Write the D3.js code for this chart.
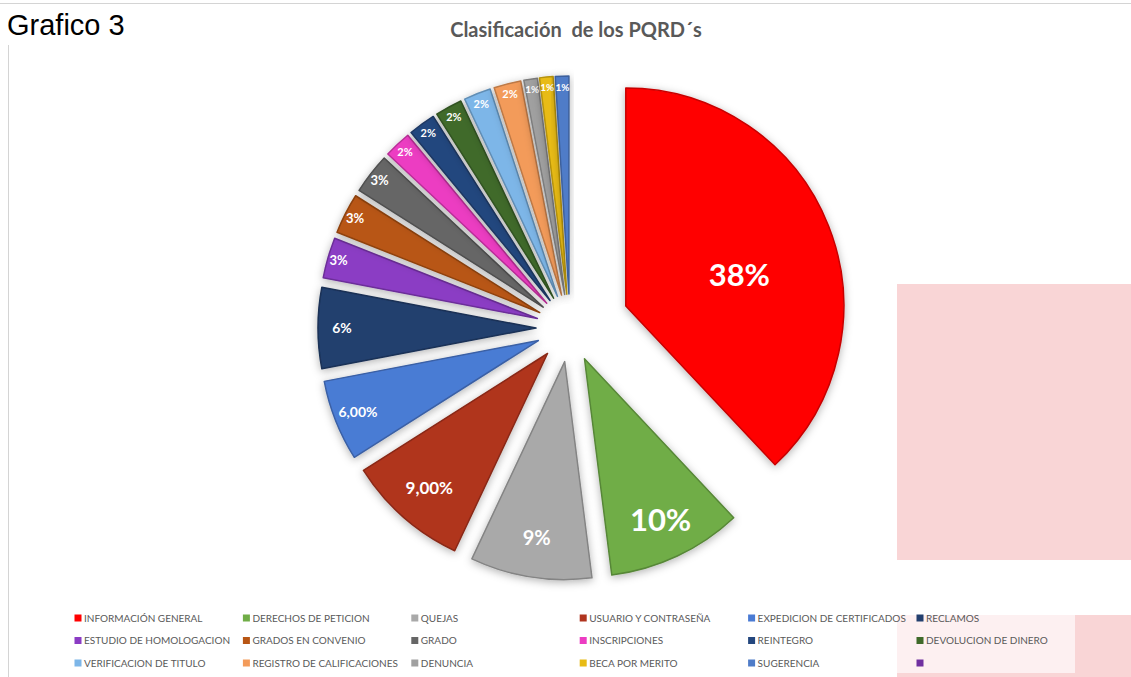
<!DOCTYPE html>
<html lang="es">
<head>
<meta charset="UTF-8">
<title>Clasificación de los PQRD´s</title>
<script src="https://d3js.org/d3.v7.min.js"></script>
<style>
  body { margin: 0; background: #fff; }
  svg { display: block; }
</style>
</head>
<body>
<script>
// categorias y valores (fraccion del total)
var categories = ["INFORMACIÓN GENERAL", "DERECHOS DE PETICION", "QUEJAS", "USUARIO Y CONTRASEÑA",
    "EXPEDICION DE CERTIFICADOS", "RECLAMOS", "ESTUDIO DE HOMOLOGACION", "GRADOS EN CONVENIO",
    "GRADO", "INSCRIPCIONES", "REINTEGRO", "DEVOLUCION DE DINERO", "VERIFICACION DE TITULO",
    "REGISTRO DE CALIFICACIONES", "DENUNCIA", "BECA POR MERITO", "SUGERENCIA", ""];
var values = [0.38, 0.10, 0.09, 0.09, 0.06, 0.06, 0.03, 0.03, 0.03, 0.02, 0.02, 0.02, 0.02, 0.02,
    0.01, 0.01, 0.01, 0];
var labels = ["38%", "10%", "9%", "9,00%", "6,00%", "6%", "3%", "3%", "3%", "2%", "2%", "2%", "2%", "2%",
    "1%", "1%", "1%", ""];
var colors = ["#ff0000", "#70ad47", "#a9a9a9", "#b0341e", "#4a7bd4", "#223f6e", "#8b3cc4", "#b85614",
    "#666666", "#ec3cc2", "#24477e", "#3f6a2a", "#7db6e8", "#f39b5a", "#a0a0a0", "#e8bb14",
    "#4f7cc8", "#7030a0"];

var W = 1131, H = 677;
var svg = d3.select("body").append("svg")
    .attr("width", W)
    .attr("height", H);

var defs = svg.append("defs");
defs.append("filter").attr("id", "sombra")
    .attr("x", "-30%").attr("y", "-30%").attr("width", "160%").attr("height", "160%")
    .append("feDropShadow")
    .attr("dx", 0).attr("dy", 2)
    .attr("stdDeviation", 4.5)
    .attr("flood-color", "#000")
    .attr("flood-opacity", 0.3);

// marco
svg.append("line").attr("x1", 0).attr("x2", W).attr("y1", 3.5).attr("y2", 3.5)
    .attr("stroke", "#d4d4d4");
svg.append("line").attr("x1", 8.5).attr("x2", 8.5).attr("y1", 45).attr("y2", H)
    .attr("stroke", "#d4d4d4");

// recuadros rosados de fondo
svg.append("rect").attr("x", 897).attr("y", 284).attr("width", W - 897).attr("height", 276)
    .attr("fill", "#f9d5d6");
svg.append("rect").attr("x", 897).attr("y", 615).attr("width", W - 897).attr("height", H - 615)
    .attr("fill", "#f9d5d6");

svg.append("text")
    .attr("x", 7).attr("y", 35)
    .attr("font-family", "Liberation Sans, Arial, sans-serif")
    .attr("font-size", "29px")
    .attr("fill", "#000")
    .text("Grafico 3");

svg.append("text")
    .attr("x", 576).attr("y", 37)
    .attr("text-anchor", "middle")
    .attr("font-family", "Lato, 'Open Sans', sans-serif")
    .attr("font-weight", "bold")
    .attr("font-size", "20px")
    .attr("fill", "#595959")
    .attr("xml:space", "preserve")
    .text("Clasificación  de los PQRD´s");

// pastel
var cx = 570, cy = 328, radius = 218;
var pie = d3.pie().sort(null).value(function (d) { return d; });
var arc = d3.arc().innerRadius(0).outerRadius(radius);
var arcs = pie(values);

function explode(d) {
    return d.value >= 0.3 ? 60 : 34;
}
function offset(d, r, shift) {
    var a = (d.startAngle + d.endAngle) / 2 + (shift || 0);
    return [Math.sin(a) * r, -Math.cos(a) * r];
}

var g = svg.append("g").attr("transform", "translate(" + cx + "," + cy + ")");

var slices = g.selectAll(".slice")
    .data(arcs.filter(function (d) { return d.value > 0; }))
    .enter().append("g")
    .attr("class", "slice")
    .attr("transform", function (d) {
        var o = offset(d, explode(d));
        return "translate(" + o[0] + "," + o[1] + ")";
    });

slices.append("path")
    .attr("d", arc)
    .attr("fill", function (d) { return colors[d.index]; })
    .attr("stroke", function (d) { return d3.color(colors[d.index]).darker(0.7); })
    .attr("stroke-width", 1.5)
    .attr("stroke-linejoin", "round")
    .attr("filter", "url(#sombra)");

function fontSize(d) {
    if (d.value >= 0.1) return 31;
    if (d.value >= 0.09) return d.index === 2 ? 20 : 17;
    if (d.value >= 0.06) return 14;
    if (d.value >= 0.03) return 13;
    if (d.value >= 0.02) return 11;
    return 10;
}
function labelRadius(d) {
    if (d.value >= 0.3) return radius * 0.54;
    if (d.value >= 0.09) return radius * 0.82;
    if (d.value >= 0.06) return radius * 0.89;
    return radius * 0.95;
}
function labelPos(d) {
    // la etiqueta grande va algo mas abajo que el angulo medio
    return offset(d, labelRadius(d), d.value >= 0.3 ? 0.11 : 0);
}

slices.append("text")
    .attr("x", function (d) { return labelPos(d)[0]; })
    .attr("y", function (d) { return labelPos(d)[1]; })
    .attr("dy", "0.35em")
    .attr("text-anchor", "middle")
    .attr("font-family", "Lato, 'Open Sans', sans-serif")
    .attr("font-weight", "bold")
    .attr("font-size", function (d) { return fontSize(d) + "px"; })
    .attr("fill", "#fff")
    .text(function (d) { return labels[d.index]; });

// leyenda
var legend = svg.append("g");
legend.append("rect")
    .attr("x", 65).attr("y", 605).attr("width", 1010).attr("height", 68)
    .attr("fill", "#fff").attr("fill-opacity", 0.65);

var colX = d3.scalePoint().domain(d3.range(6)).range([78, 920]);
var rowY = d3.scalePoint().domain(d3.range(3)).range([618, 663]);

var items = legend.selectAll(".item")
    .data(categories)
    .enter().append("g")
    .attr("class", "item")
    .attr("transform", function (d, i) {
        return "translate(" + colX(i % 6) + "," + rowY(Math.floor(i / 6)) + ")";
    });
items.append("rect")
    .attr("x", -3.5).attr("y", -3.5).attr("width", 7).attr("height", 7)
    .attr("fill", function (d, i) { return colors[i]; });
items.append("text")
    .attr("x", 6)
    .attr("dy", "0.35em")
    .attr("font-family", "Lato, 'Open Sans', sans-serif")
    .attr("font-size", "10px")
    .attr("fill", "#595959")
    .text(function (d) { return d; });
</script>
</body>
</html>
